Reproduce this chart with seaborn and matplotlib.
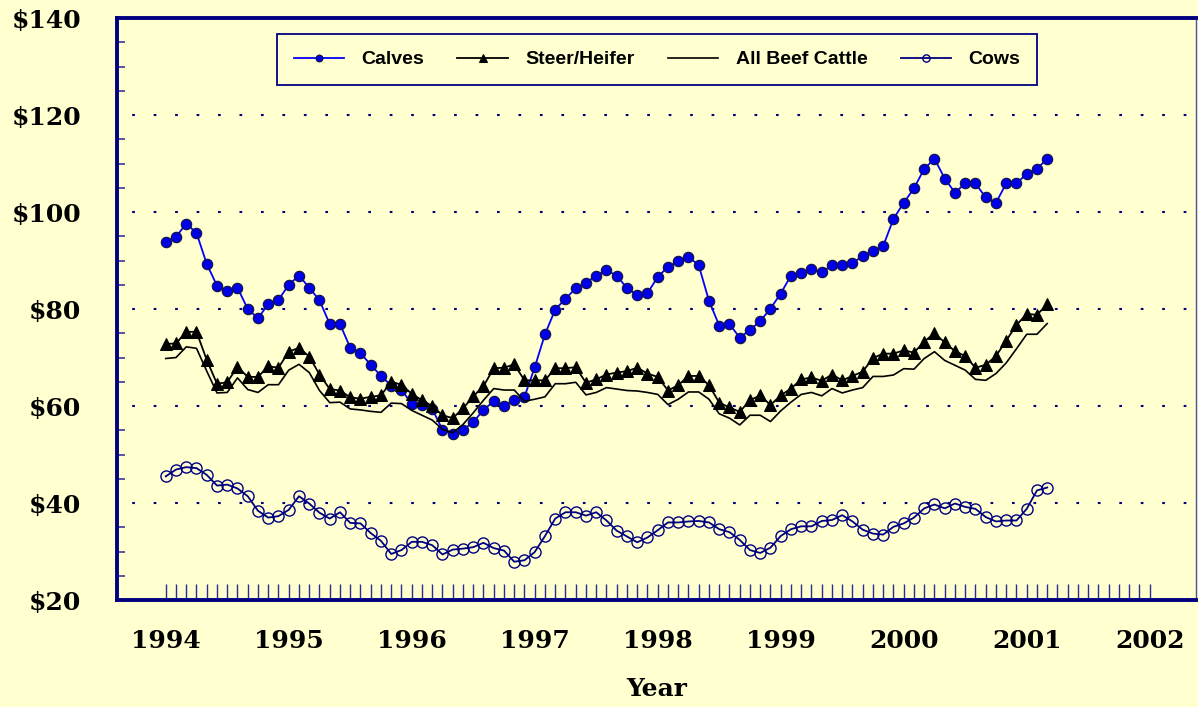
import matplotlib
matplotlib.use("Agg")
import matplotlib.pyplot as plt
from matplotlib.ticker import FixedLocator
import numpy as np
import pandas as pd
import seaborn as sns

# Monthly cattle prices ($/cwt), Jan 1994 - Mar 2001
START_YEAR = 1994
calves = [
    93.8, 94.9, 97.6, 95.7, 89.3, 84.8, 83.7, 84.4, 80.0, 78.1, 81.0, 81.9,
    85.0, 86.9, 84.4, 81.8, 76.9, 76.9, 72.0, 70.9, 68.5, 66.2, 64.2, 63.3,
    60.5, 60.2, 59.4, 55.1, 54.3, 55.1, 56.7, 59.2, 61.0, 60.1, 61.2, 61.9,
    68.0, 74.8, 79.9, 82.1, 84.3, 85.4, 86.9, 88.0, 86.9, 84.3, 82.9, 83.3,
    86.6, 88.7, 89.8, 90.8, 89.0, 81.7, 76.6, 76.9, 74.1, 75.7, 77.5, 80.1,
    83.2, 86.9, 87.4, 88.2, 87.6, 89.0, 89.1, 89.5, 90.9, 92.0, 93.0, 98.6,
    101.9, 104.9, 108.9, 111.0, 106.9, 104.0, 105.9, 105.9, 103.0, 101.9, 105.9, 105.9,
    107.9, 108.9, 111.0,
]
steer_heifer = [
    72.8, 72.9, 75.3, 75.3, 69.5, 64.6, 64.9, 68.1, 66.0, 66.0, 68.2, 67.9,
    71.2, 72.0, 70.2, 66.5, 63.5, 63.2, 61.8, 61.5, 61.9, 62.2, 65.0, 64.4,
    62.5, 61.2, 60.0, 58.1, 57.5, 59.5, 62.0, 64.1, 67.8, 67.9, 68.6, 65.3,
    65.3, 65.3, 67.8, 67.8, 68.0, 64.8, 65.5, 66.5, 66.9, 67.2, 67.9, 66.7,
    66.0, 63.2, 64.3, 66.2, 66.2, 64.3, 60.7, 59.7, 58.8, 61.2, 62.2, 60.2,
    62.2, 63.6, 65.5, 65.9, 65.2, 66.5, 65.3, 66.2, 67.1, 69.9, 70.8, 70.8,
    71.5, 71.0, 73.3, 75.0, 73.1, 71.3, 70.3, 67.9, 68.5, 70.3, 73.5, 76.7,
    79.0, 78.8, 81.0,
]
all_beef = [
    69.8, 70.0, 72.2, 71.9, 67.2, 62.7, 62.8, 65.8, 63.4, 62.8, 64.4, 64.4,
    67.4, 68.6, 66.9, 63.2, 60.7, 60.8, 59.4, 59.2, 58.9, 58.7, 60.6, 60.5,
    59.1, 58.1, 57.1, 55.2, 54.5, 56.2, 58.6, 61.2, 63.6, 63.3, 63.3, 61.0,
    61.4, 61.9, 64.6, 64.6, 64.9, 62.3, 62.8, 63.8, 63.5, 63.2, 63.1, 62.8,
    62.4, 60.3, 61.4, 62.9, 62.9, 61.4, 58.4, 57.5, 56.1, 58.1, 58.1, 56.8,
    59.0, 60.8, 62.4, 62.8, 62.1, 63.6, 62.7, 63.3, 63.8, 66.1, 66.1, 66.4,
    67.7, 67.6, 69.8, 71.2, 69.4, 68.4, 67.4, 65.5, 65.3, 66.7, 68.9, 71.8,
    74.8, 74.8, 77.0,
]
cows = [
    45.5, 46.9, 47.4, 47.2, 45.8, 43.6, 43.8, 43.0, 41.4, 38.4, 37.0, 37.3,
    38.6, 41.4, 39.9, 38.0, 36.8, 38.1, 35.9, 35.8, 33.8, 32.2, 29.5, 30.3,
    32.0, 32.0, 31.3, 29.4, 30.4, 30.6, 30.9, 31.8, 30.7, 30.2, 27.9, 28.2,
    29.9, 33.2, 36.8, 38.1, 38.1, 37.4, 38.1, 36.4, 34.3, 33.1, 31.9, 32.9,
    34.4, 36.0, 36.0, 36.2, 36.3, 36.0, 34.6, 34.0, 32.4, 30.3, 29.7, 30.8,
    33.2, 34.6, 35.2, 35.2, 36.3, 36.5, 37.5, 36.2, 34.5, 33.7, 33.5, 35.1,
    35.8, 37.0, 38.9, 39.7, 38.9, 39.9, 39.2, 38.8, 37.1, 36.2, 36.4, 36.4,
    38.8, 42.6, 43.2,
]
year_ticks = list(range(1994, 2003))
price_ticks = [20, 40, 60, 80, 100, 120, 140]
price_labels = [f"${v}" for v in price_ticks]

BG = "#FFFFD0"
NAVY = "#000080"

months = START_YEAR + np.arange(len(calves)) / 12
df = pd.DataFrame({
    "year": months,
    "Calves": calves,
    "Steer/Heifer": steer_heifer,
    "All Beef Cattle": all_beef,
    "Cows": cows,
})

fig = plt.figure(figsize=(11.98, 7.07), dpi=100, facecolor=BG)
ax = fig.add_axes([0.0977, 0.1513, 0.9006, 0.8232], facecolor=BG)

sns.lineplot(data=df, x="year", y="Calves", ax=ax, color="#0000FF", lw=1.3,
             marker="o", markersize=7.5, markerfacecolor="#0000E6",
             markeredgecolor="#101040", markeredgewidth=0.8, label="Calves")
sns.lineplot(data=df, x="year", y="Steer/Heifer", ax=ax, color="black", lw=1.3,
             marker="^", markersize=8, markerfacecolor="black",
             markeredgecolor="black", label="Steer/Heifer")
sns.lineplot(data=df, x="year", y="All Beef Cattle", ax=ax, color="black", lw=1.2,
             label="All Beef Cattle")
sns.lineplot(data=df, x="year", y="Cows", ax=ax, color=NAVY, lw=1.3,
             marker="o", markersize=8, markerfacecolor="none",
             markeredgecolor=NAVY, markeredgewidth=1.0, label="Cows")

ax.set_xlim(1993.604, 2002.376)
ax.set_ylim(20, 140)

# y axis: labels only at $20 steps, small inward ticks at the $5 steps between
ax.yaxis.set_major_locator(FixedLocator(price_ticks))
ax.set_yticklabels(price_labels)
ax.yaxis.set_minor_locator(FixedLocator([v for v in range(25, 140, 5) if v % 20]))
ax.tick_params(axis="y", which="major", length=0, pad=26)
ax.tick_params(axis="y", which="minor", direction="in", length=6, width=1.2,
               color="#3a3a9a")

# x axis: monthly inward ticks, year labels
ax.xaxis.set_major_locator(FixedLocator(year_ticks))
ax.set_xticklabels([str(y) for y in year_ticks])
ax.xaxis.set_minor_locator(FixedLocator(START_YEAR + np.arange(97) / 12))
ax.tick_params(axis="x", which="both", direction="in", length=11.5, width=1,
               color="#2a2a90", pad=21)

for lab in ax.get_xticklabels() + ax.get_yticklabels():
    lab.set_fontfamily("DejaVu Serif")
    lab.set_fontweight("bold")
    lab.set_fontsize(18)

ax.grid(axis="y", which="major", color=NAVY, lw=1.5, linestyle=(3, (1.3, 9)))
ax.set_axisbelow(True)

ax.set_ylabel("")
ax.set_xlabel("Year", family="DejaVu Serif", fontweight="bold", fontsize=18,
              labelpad=17)

for side in ["left", "bottom", "top"]:
    ax.spines[side].set_color(NAVY)
    ax.spines[side].set_linewidth(2.8)
ax.spines["right"].set_color("#5050a0")
ax.spines["right"].set_linewidth(1)

leg = ax.legend(loc="upper center", bbox_to_anchor=(0.5005, 0.972), ncol=4,
                borderaxespad=0, frameon=True, fancybox=False, framealpha=1,
                facecolor=BG, edgecolor=NAVY, markerscale=0.65, handlelength=2.6,
                columnspacing=1.7, borderpad=0.85, handletextpad=0.9,
                prop={"family": ["Liberation Sans Narrow", "Liberation Sans", "DejaVu Sans"],
                      "weight": "bold", "size": 14})
leg.get_frame().set_linewidth(1.3)

fig.savefig("out.png", dpi=100, facecolor=BG)
